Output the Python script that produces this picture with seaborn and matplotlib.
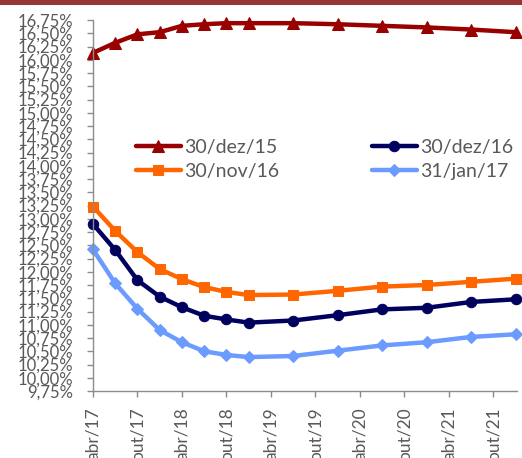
import matplotlib
matplotlib.use("Agg")
import matplotlib.pyplot as plt
from matplotlib.patches import Rectangle
import seaborn as sns
import pandas as pd
import numpy as np

# ---- data ----
months = [0, 3, 6, 9, 12, 15, 18, 21, 27, 33, 39, 45, 51, 57]  # months since abr/17
dez15 = [16.13, 16.32, 16.48, 16.52, 16.64, 16.67, 16.69, 16.69, 16.69, 16.67, 16.64, 16.61, 16.57, 16.52]
nov16 = [13.23, 12.77, 12.37, 12.05, 11.86, 11.71, 11.62, 11.56, 11.57, 11.64, 11.72, 11.75, 11.81, 11.87]
dez16 = [12.90, 12.41, 11.84, 11.53, 11.33, 11.17, 11.10, 11.04, 11.08, 11.18, 11.29, 11.32, 11.43, 11.48]
jan17 = [12.42, 11.78, 11.30, 10.90, 10.67, 10.50, 10.43, 10.39, 10.41, 10.51, 10.61, 10.67, 10.77, 10.82]
series_names = ["30/dez/15", "30/nov/16", "30/dez/16", "31/jan/17"]
x_tick_pos = [0, 6, 12, 18, 24, 30, 36, 42, 48, 54]
x_tick_labels = ["abr/17", "out/17", "abr/18", "out/18", "abr/19", "out/19",
                 "abr/20", "out/20", "abr/21", "out/21"]
y_ticks = [9.75 + 0.25 * i for i in range(29)]

colors = ["#990000", "#FF6600", "#00005E", "#6B9BFF"]
markers = ["^", "s", "o", "D"]
msizes = [9, 7.5, 7.5, 6]

rows = []
for name, vals in zip(series_names, [dez15, nov16, dez16, jan17]):
    for m, v in zip(months, vals):
        rows.append({"m": m, "v": v, "s": name})
df = pd.DataFrame(rows)

sns.set_style("white")
plt.rcParams["font.family"] = ["Lato", "DejaVu Sans"]

fig = plt.figure(figsize=(5.22, 4.58), dpi=100)
ax = fig.add_axes([93 / 522, 1 - 391 / 458, 424 / 522, 371 / 458])

for name, c, mk, ms in zip(series_names, colors, markers, msizes):
    sub = df[df["s"] == name]
    sns.lineplot(data=sub, x="m", y="v", ax=ax, color=c, marker=mk,
                 markersize=ms, markeredgecolor=c, linewidth=3.2,
                 label=name, clip_on=False)

handles, labels = ax.get_legend_handles_labels()
if ax.get_legend() is not None:
    ax.get_legend().remove()

ax.set_xlim(0, 57.2)
ax.set_ylim(9.75, 16.75)
ax.set_yticks(y_ticks)
ax.set_yticklabels([f"{t:.2f}".replace(".", ",") + "%" for t in y_ticks])
ax.set_xticks(x_tick_pos)
ax.set_xticklabels(x_tick_labels, rotation=90, va="top", ha="center")
ax.set_xlabel("")
ax.set_ylabel("")

for sp in ["top", "right"]:
    ax.spines[sp].set_visible(False)
for sp in ["left", "bottom"]:
    ax.spines[sp].set_color("#8C8C8C")
    ax.spines[sp].set_linewidth(1.0)

ax.tick_params(axis="y", direction="out", length=4, width=1.0, color="#8C8C8C",
               labelsize=12, labelcolor="#595959", pad=10, left=True)
ax.tick_params(axis="x", direction="out", length=4, width=1.0, color="#8C8C8C",
               labelsize=12.5, labelcolor="#595959", pad=8, bottom=True)

leg = fig.legend(handles, labels, ncol=2, loc="upper left",
                 bbox_to_anchor=(136 / 522, 1 - 139 / 458), frameon=False,
                 fontsize=14, handlelength=2.3, handletextpad=0.15,
                 columnspacing=4.8, labelspacing=0.35, borderpad=0, borderaxespad=0)
for t in leg.get_texts():
    t.set_color("#595959")

fig.patches.append(Rectangle((0, 1 - 5 / 458), 1, 5 / 458, transform=fig.transFigure,
                             facecolor="#953735", edgecolor="none"))

fig.savefig("out.png", dpi=100)
